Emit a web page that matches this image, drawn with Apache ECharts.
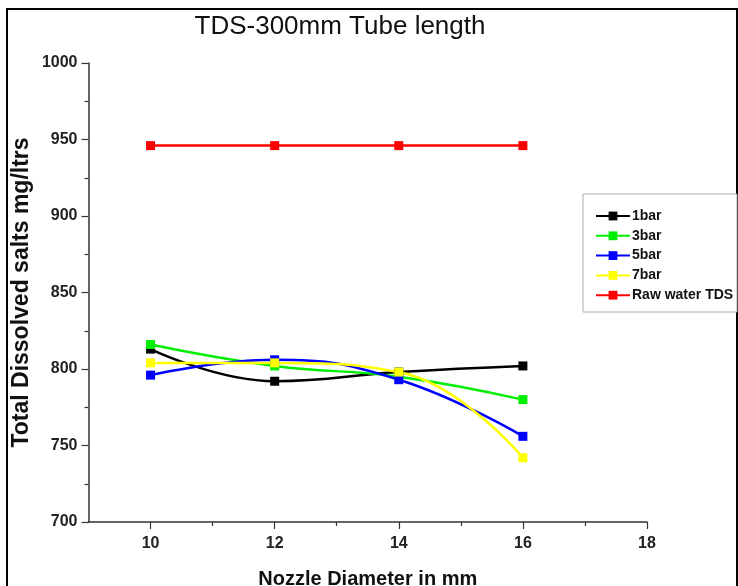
<!DOCTYPE html>
<html>
<head>
<meta charset="utf-8">
<script src="https://cdn.jsdelivr.net/npm/echarts@6/dist/echarts.min.js"></script>
<style>
  html, body { margin: 0; padding: 0; background: #fff; }
  #chart { width: 738px; height: 586px; }
</style>
</head>
<body>
<div id="chart"></div>
<script>
// nozzle diameters (mm)
var diameters = [10, 12, 14, 16];
// TDS readings (mg/ltrs)
var bar1 = [813, 792, 798, 802];
var bar3 = [816, 802, 795, 780];
var bar5 = [796, 806, 793, 756];
var bar7 = [804, 804, 798, 742];
var rawWater = [946, 946, 946, 946];
var xLabels = [10, 12, 14, 16, 18];
var xMinor = [11, 13, 15, 17];

function pairs(ys) {
  return diameters.map(function (d, i) { return [d, ys[i]]; });
}

function line(name, color, ys, smooth) {
  return {
    name: name,
    type: 'line',
    data: pairs(ys),
    smooth: smooth,
    symbol: 'rect',
    symbolSize: 9,
    lineStyle: { color: color, width: 2.5 },
    itemStyle: { color: color },
    emphasis: { disabled: true }
  };
}

var dom = document.getElementById('chart');
var myChart = echarts.init(dom, null, { renderer: 'canvas' });
var labelFont = { fontFamily: 'Liberation Sans', fontWeight: 'bold', color: '#222' };

var option = {
  backgroundColor: '#fff',
  animation: false,
  title: {
    text: 'TDS-300mm Tube length',
    left: 335,
    textAlign: 'center',
    top: 9,
    textStyle: { fontFamily: 'Liberation Sans', fontWeight: 'normal', fontSize: 26, color: '#111' }
  },
  graphic: [
    { type: 'polyline', shape: { points: [[7, 600], [7, 9], [737, 9], [737, 600]] },
      style: { stroke: '#000', lineWidth: 2, fill: null } },
    { type: 'rect', shape: { x: 583, y: 194, width: 154, height: 118 },
      style: { stroke: '#aaa', lineWidth: 1, fill: '#fff' }, z: 5 }
  ],
  legend: {
    orient: 'vertical',
    left: 595,
    top: 209,
    padding: 0,
    itemWidth: 34,
    itemHeight: 11,
    itemGap: 5.8,
    z: 10,
    textStyle: { fontFamily: 'Liberation Sans', fontWeight: 'bold', fontSize: 14, lineHeight: 14, color: '#111', padding: [0, 0, 0, -3] },
    data: ['1bar', '3bar', '5bar', '7bar', 'Raw water TDS']
  },
  grid: { left: 88.5, right: 91, top: 63, bottom: 64, outerBoundsMode: 'none' },
  xAxis: [
    {
      type: 'value',
      min: 9,
      max: 18,
      interval: 1,
      name: 'Nozzle Diameter in mm',
      nameLocation: 'middle',
      nameGap: 47,
      nameMoveOverlap: false,
      nameTextStyle: { fontFamily: 'Liberation Sans', fontWeight: 'bold', fontSize: 20, color: '#111' },
      splitLine: { show: false },
      axisLine: { lineStyle: { color: '#333', width: 1.5 } },
      axisTick: { customValues: xLabels, length: 7, lineStyle: { color: '#333', width: 1.2 } },
      axisLabel: Object.assign({ customValues: xLabels, fontSize: 16, margin: 14 }, labelFont)
    },
    {
      type: 'value',
      min: 9,
      max: 18,
      interval: 1,
      position: 'bottom',
      splitLine: { show: false },
      axisLine: { show: false },
      axisTick: { customValues: xMinor, length: 4, lineStyle: { color: '#333', width: 1.2 } },
      axisLabel: { show: false }
    }
  ],
  yAxis: {
    type: 'value',
    min: 700,
    max: 1000,
    interval: 50,
    name: 'Total Dissolved salts mg/ltrs',
    nameLocation: 'middle',
    nameGap: 55,
    nameMoveOverlap: false,
    nameTextStyle: { fontFamily: 'Liberation Sans', fontWeight: 'bold', fontSize: 23, color: '#111' },
    splitLine: { show: false },
    axisLine: { show: true, lineStyle: { color: '#333', width: 1.5 } },
    axisTick: { show: true, length: 7, lineStyle: { color: '#333', width: 1.2 } },
    minorTick: { show: true, splitNumber: 2, length: 4, lineStyle: { color: '#333', width: 1.2 } },
    axisLabel: Object.assign({ fontSize: 16, margin: 11, formatter: function (v) { return String(v); } }, labelFont)
  },
  series: [
    line('1bar', '#000000', bar1, 0.45),
    line('3bar', '#00ee00', bar3, 0.45),
    line('5bar', '#0000ff', bar5, 0.45),
    line('7bar', '#ffff00', bar7, 0.45),
    line('Raw water TDS', '#ff0000', rawWater, false)
  ]
};

if (option && typeof option === 'object') {
  myChart.setOption(option, true);
}
</script>
</body>
</html>
